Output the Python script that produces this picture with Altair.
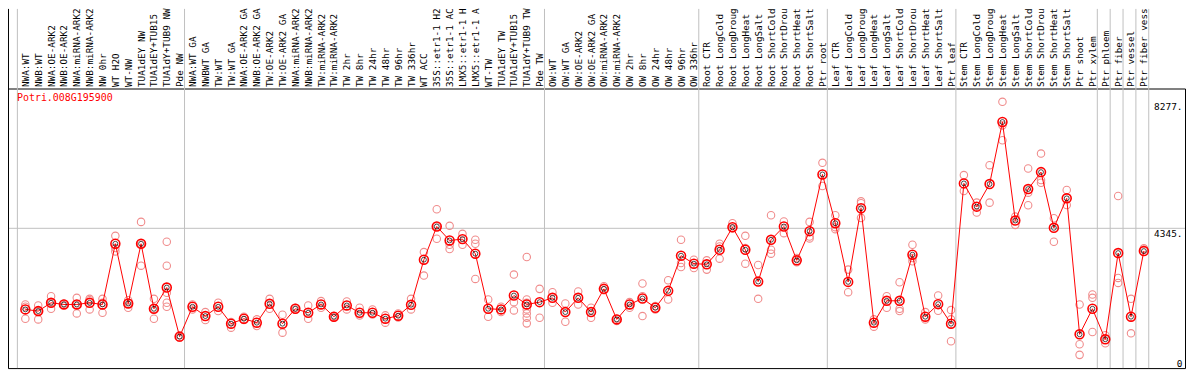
import altair as alt
import pandas as pd

gene = "Potri.008G195900"

labels = [
    "NWA:WT", "NWB:WT", "NWA:OE-ARK2", "NWB:OE-ARK2", "NWA:miRNA-ARK2", "NWB:miRNA-ARK2",
    "NW 0hr", "WT H2O", "WT-NW", "TUA1dEY NW", "TUA1dEY+TUB15 NW", "TUA1dY+TUB9 NW", "Pde NW",
    "NWA:WT GA", "NWBWT GA", "TW:WT", "TW:WT GA", "NWA:OE-ARK2 GA", "NWB:OE-ARK2 GA",
    "TW:OE-ARK2", "TW:OE-ARK2 GA", "NWA:miRNA-ARK2 GA", "NWB:miRNA-ARK2 GA", "TW:miRNA-ARK2",
    "TW:miRNA-ARK2 GA", "TW 2hr", "TW 8hr", "TW 24hr", "TW 48hr", "TW 96hr", "TW 336hr",
    "WT ACC", "35S::etr1-1 H2O", "35S::etr1-1 ACC", "LMX5::etr1-1 H2O", "LMX5::etr1-1 ACC",
    "WT-TW", "TUA1dEY TW", "TUA1dEY+TUB15 TW", "TUA1dY+TUB9 TW", "Pde TW",
    "OW:WT", "OW:WT GA", "OW:OE-ARK2", "OW:OE-ARK2 GA", "OW:miRNA-ARK2", "OW:miRNA-ARK2 GA",
    "OW 2hr", "OW 8hr", "OW 24hr", "OW 48hr", "OW 96hr", "OW 336hr",
    "Root CTR", "Root LongCold", "Root LongDrought", "Root LongHeat", "Root LongSalt",
    "Root ShortCold", "Root ShortDrought", "Root ShortHeat", "Root ShortSalt", "Ptr root",
    "Leaf CTR", "Leaf LongCold", "Leaf LongDrought", "Leaf LongHeat", "Leaf LongSalt",
    "Leaf ShortCold", "Leaf ShortDrought", "Leaf ShortHeat", "Leaf ShortSalt", "Ptr leaf",
    "Stem CTR", "Stem LongCold", "Stem LongDrought", "Stem LongHeat", "Stem LongSalt",
    "Stem ShortCold", "Stem ShortDrought", "Stem ShortHeat", "Stem ShortSalt", "Ptr shoot",
    "Ptr xylem", "Ptr phloem", "Ptr fiber", "Ptr vessel", "Ptr fiber vessel",
]

group_sizes = [13, 28, 12, 10, 10, 11, 1, 1, 1, 1]

means = [
    1824, 1772, 2030, 1978, 1978, 2030, 1978, 3865, 2009, 3865, 1844, 2504, 978,
    1906, 1617, 1906, 1380, 1535, 1411, 1999, 1380, 1844, 1720, 1978, 1597, 1947, 1720,
    1720, 1535, 1628, 1968, 3370, 4401, 3968, 4009, 3556, 1844, 1824, 2256, 1978, 2050,
    2184, 1741, 2184, 1741, 2463, 1514, 1978, 2164, 1875, 2401, 3494, 3246,
    3226, 3679, 4380, 3679, 2689, 3988, 4401, 3349, 4257, 6020,
    4504, 2679, 4968, 1411, 2092, 2092, 3525, 1597, 1988, 1380,
    5741, 5019, 5721, 7649, 4587, 5566, 6092, 4360, 5277, 1050, 1844,
    895, 3576, 1597, 3638,
]

reps = [
    [1978, 1906, 1535], [1947, 1772, 1514], [2236, 2030, 1844], [1999, 1958],
    [2184, 1978, 1700], [2153, 2112, 1824], [2153, 2030, 1720], [4112, 3731, 3628],
    [2112, 2009, 1875], [4545, 3865, 3184], [2153, 1844, 1535],
    [3927, 3184, 2339, 2030, 1906], [1020, 947],
    [1978, 1824], [1741, 1494], [2030, 1772], [1432, 1257], [1597, 1494], [1514, 1308],
    [2153, 1844], [1658, 1102], [1875, 1824], [1947, 1535], [2081, 1875], [1617, 1576],
    [2071, 1824], [1875, 1638], [1824, 1669], [1638, 1411], [1700, 1576], [2153, 1824],
    [3607, 2875], [4937, 4401, 4019], [4422, 3834, 3700], [4174, 3834], [3989, 3865, 2772],
    [2133, 1597], [1906, 1741], [2906, 2050, 1792],
    [3453, 2133, 2030, 1824, 1700, 1566, 1390], [2463, 1566],
    [2360, 2030], [2009, 1442], [2380, 1978], [1875, 1566], [2545, 2421], [1535, 1463],
    [2050, 1875], [2628, 2236, 1617], [1927, 1824], [2731, 2133], [3989, 3267, 3143],
    [3370, 3112],
    [3349, 3061], [3865, 3782, 3401], [4504, 4350], [4112, 3731, 3246], [3205, 2153],
    [4751, 3679, 3556], [4556, 4195], [3422, 3288], [4545, 4092, 4030], [6380, 5659],
    [4751, 4380, 4319], [3061, 2360], [5184, 5123, 4669], [1514, 1287], [2236, 1875],
    [2669, 1844, 1772], [3834, 3422, 3318], [1741, 1514], [2256, 1782], [1803, 1514, 834],
    [5999, 5504], [5143, 4834], [6308, 5143], [8277, 7545, 7082], [4710, 4452],
    [6205, 5453, 5061], [6669, 5844, 5762], [4659, 3927], [5535, 5071], [1978, 741, 411],
    [2288, 2184, 1123],
    [1020, 772], [5350, 2803, 2648], [2153, 1081], [3721, 3679],
]

y_ticks = [0, 4345, 8277]
y_top = 8277 * 1.05

idx = list(range(len(labels)))
mean_df = pd.DataFrame({"pos": idx, "value": means})
rep_df = pd.DataFrame([(i, v) for i, vs in enumerate(reps) for v in vs], columns=["pos", "value"])

starts = [0]
for g in group_sizes:
    starts.append(starts[-1] + g)
grid_df = pd.DataFrame({"pos": [s - 0.62 for s in starts]})

W, H, PT = 1183, 281, 80

label_js = "[" + ",".join("'" + s + "'" for s in labels) + "]"

x_enc = alt.X(
    "pos:Q",
    scale=alt.Scale(domain=[-1.35, 90.2], nice=False, zero=False),
    axis=alt.Axis(
        orient="top", values=idx, labelExpr=label_js + "[datum.value]",
        labelAngle=270, labelAlign="left", labelBaseline="middle",
        labelFont="DejaVu Sans Mono", labelFontSize=9.4, labelColor="black",
        labelPadding=2, labelOverlap=False, labelBound=False, labelFlush=False,
        ticks=False, domain=False, grid=False, title=None,
    ),
)
y_enc = alt.Y(
    "value:Q",
    scale=alt.Scale(domain=[0, y_top], nice=False, zero=True),
    axis=alt.Axis(
        orient="right", values=y_ticks,
        labelExpr="datum.value == 0 ? '0' : datum.value + '.'",
        labelAlign="right", labelPadding=-3,
        labelBaseline={"condition": {"test": "datum.value == 0", "value": "bottom"}, "value": "top"},
        labelFont="DejaVu Sans Mono", labelFontSize=9.5, labelColor="black",
        ticks=False, domain=False, grid=False, title=None,
    ),
)

vgrid = alt.Chart(grid_df).mark_rule(color="#c0c0c0", strokeWidth=1).encode(
    x=x_enc, y=alt.value(-PT), y2=alt.value(H)
)
hgrid = alt.Chart(pd.DataFrame({"value": [y_ticks[1]]})).mark_rule(
    color="#c0c0c0", strokeWidth=1
).encode(y=y_enc)
left_edge = alt.Chart(pd.DataFrame({"a": [0]})).mark_rule(color="black", strokeWidth=1).encode(
    x=alt.value(0.5), y=alt.value(-PT), y2=alt.value(H)
)
rep_pts = alt.Chart(rep_df).mark_point(
    shape="circle", filled=False, color="#f08c8c", size=56, strokeWidth=1.1, opacity=1
).encode(x=x_enc, y=y_enc)
line = alt.Chart(mean_df).mark_line(color="#ff0000", strokeWidth=1).encode(x=x_enc, y=y_enc)
mean_outer = alt.Chart(mean_df).mark_point(
    shape="circle", filled=False, color="#ff0000", size=80, strokeWidth=1.6, opacity=1
).encode(x=x_enc, y=y_enc)
mean_inner = alt.Chart(mean_df).mark_point(
    shape="circle", filled=False, color="black", size=24, strokeWidth=0.7, opacity=1
).encode(x=x_enc, y=y_enc)
title_txt = alt.Chart(pd.DataFrame({"t": [gene]})).mark_text(
    align="left", baseline="middle", color="#ff0000", font="DejaVu Sans Mono", fontSize=10
).encode(x=alt.value(9), y=alt.value(10), text="t:N")

chart = alt.layer(
    vgrid, hgrid, left_edge, rep_pts, line, mean_outer, mean_inner, title_txt
).properties(
    width=W, height=H,
    autosize=alt.AutoSizeParams(type="none"),
    padding={"left": 0, "top": PT, "right": 1, "bottom": 1},
    background="white",
).configure_view(stroke="black", strokeWidth=1)

chart.save("out.html", embed_options={"renderer": "svg", "actions": False})
